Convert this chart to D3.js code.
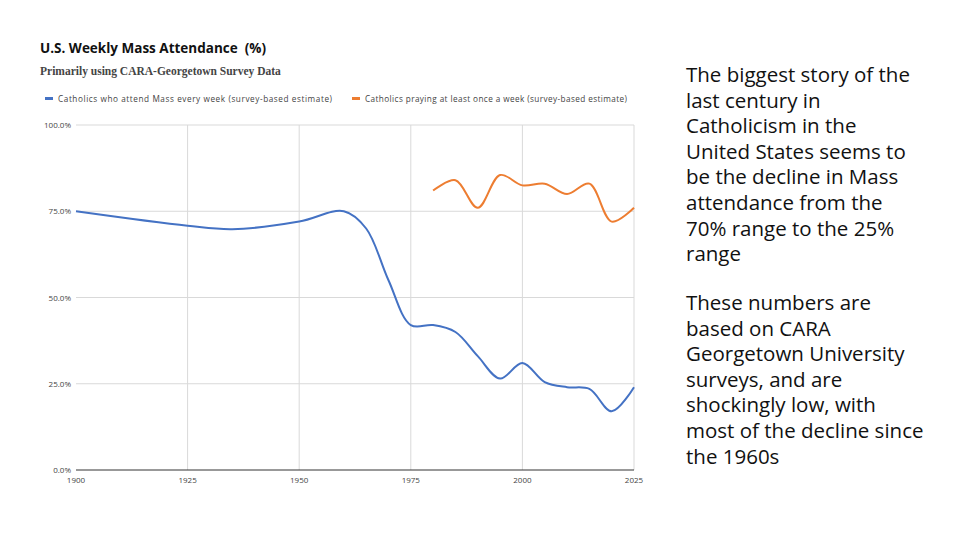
<!DOCTYPE html><html><head><meta charset="utf-8"><script src="https://cdn.jsdelivr.net/npm/d3@7"></script>
<style>body{margin:0;background:#fff}svg{display:block}text{white-space:pre}</style></head><body><svg id="c" width="960" height="540"></svg>
<script>
const blueYears=[1900,1925,1935,1950,1960,1965,1970,1975,1980,1985,1990,1995,2000,2005,2010,2015,2020,2025];
const blueVals=[75,70.8,69.8,72,75,70,55,42,42,40,33,26.5,31,25.5,24,23.5,17,24];
const orangeYears=[1980,1985,1990,1995,2000,2005,2010,2015,2020,2025];
const orangeVals=[81,84,76,85.5,82.5,83,80,83,72,76];
const xTicks=[1900,1925,1950,1975,2000,2025];
const yTicks=[0,25,50,75,100];
const svg=d3.select("#c");
const x=d3.scaleLinear().domain([1900,2025]).range([76,634]);
const y=d3.scaleLinear().domain([0,100]).range([470,125]);
const g=svg.append("g");
g.selectAll(".gy").data(yTicks.filter(d=>d>0)).join("line").attr("x1",76).attr("x2",634).attr("y1",d=>y(d)).attr("y2",d=>y(d)).attr("stroke","#d9d9d9");
g.selectAll(".gx").data(xTicks.filter(d=>d>1900)).join("line").attr("y1",125).attr("y2",470).attr("x1",d=>x(d)).attr("x2",d=>x(d)).attr("stroke","#d9d9d9");
g.append("line").attr("x1",76).attr("x2",634).attr("y1",470).attr("y2",470).attr("stroke","#333");
g.selectAll(".yl").data(yTicks).join("text").attr("x",71).attr("y",d=>y(d)+3).attr("text-anchor","end").attr("font-family","Open Sans, Arial").attr("font-size",8).attr("fill","#444").text(d=>d.toFixed(1)+"%");
g.selectAll(".xl").data(xTicks).join("text").attr("x",d=>x(d)).attr("y",483).attr("text-anchor","middle").attr("font-family","Open Sans, Arial").attr("font-size",8).attr("fill","#444").text(d=>d);
const line=d3.line().x(d=>x(d[0])).y(d=>y(d[1])).curve(d3.curveCatmullRom);
g.append("path").datum(blueYears.map((d,i)=>[d,blueVals[i]])).attr("d",line).attr("fill","none").attr("stroke","#4472c4").attr("stroke-width",2);
g.append("path").datum(orangeYears.map((d,i)=>[d,orangeVals[i]])).attr("d",line).attr("fill","none").attr("stroke","#ed7d31").attr("stroke-width",2);
svg.append("text").attr("x",40).attr("y",53).attr("font-family","Open Sans, Arial").attr("font-weight","bold").attr("font-size",13.5).attr("fill","#111").text("U.S. Weekly Mass Attendance  (%)");
svg.append("text").attr("x",40).attr("y",75).attr("font-family","Liberation Serif, Times New Roman").attr("font-weight","bold").attr("font-size",11.5).attr("fill","#444").text("Primarily using CARA-Georgetown Survey Data");
const leg=[["Catholics who attend Mass every week (survey-based estimate)","#4472c4",55],["Catholics praying at least once a week (survey-based estimate)","#ed7d31",362]];
leg.forEach(([t,c,lx])=>{svg.append("rect").attr("x",lx-10).attr("y",97).attr("width",8).attr("height",3).attr("fill",c);
svg.append("text").attr("x",lx+3).attr("y",102).attr("font-family","Open Sans, Arial").attr("font-size",8.2).attr("fill","#444").attr("textLength",t.length>60?262:274).text(t);});
const para=[["The biggest story of the","last century in","Catholicism in the","United States seems to","be the decline in Mass","attendance from the","70% range to the 25%","range"],["These numbers are","based on CARA","Georgetown University","surveys, and are","shockingly low, with","most of the decline since","the 1960s"]];
[[82,para[0]],[310,para[1]]].forEach(([y0,ls])=>ls.forEach((l,i)=>svg.append("text").attr("x",686).attr("y",y0+i*25.6).attr("font-family","Open Sans, DejaVu Sans").attr("font-size",20.5).attr("fill","#111").text(l)));
</script></body></html>
